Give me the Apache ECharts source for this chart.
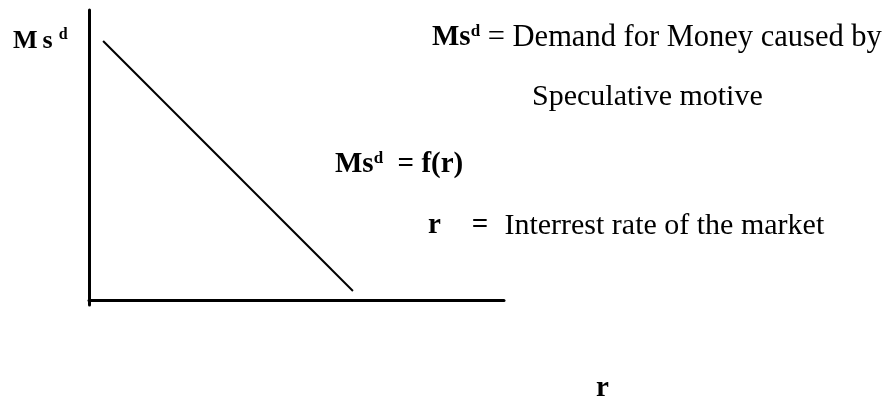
<!DOCTYPE html>
<html>
<head>
<meta charset="utf-8">
<title>Demand for money – speculative motive</title>
<script src="https://cdn.jsdelivr.net/npm/echarts@6/dist/echarts.min.js"></script>
<style>
  html, body { margin: 0; padding: 0; background: #fff; }
  #chart { width: 891px; height: 400px; }
</style>
</head>
<body>
<div id="chart"></div>
<script>
// interest rate r (x) and speculative demand Ms^d (y), arbitrary units
const rValues = [3.4, 63.6];
const msdValues = [89.3, 3.1];
const rRange = [0, 100];
const msdRange = [-1.7, 100];

const ink = '#000';
const serif = '"Liberation Serif", "Times New Roman", serif';

// rich text styles shared by the annotations
const rich = {
  b: { fontSize: 29, fontWeight: 'bold', fontFamily: serif, fill: ink, lineHeight: 30 },
  n: { fontSize: 30, fontFamily: serif, fill: ink, lineHeight: 30 },
  sup: { fontSize: 17, fontWeight: 'bold', fontFamily: serif, fill: ink, lineHeight: 17, verticalAlign: 'top' }
};

function label(x, y, text, extraRich) {
  return {
    type: 'text',
    x: x,
    y: y,
    style: {
      text: text,
      rich: Object.assign({}, rich, extraRich || {}),
      verticalAlign: 'middle',
      align: 'left'
    }
  };
}

const chart = echarts.init(document.getElementById('chart'), null, { renderer: 'canvas' });

const option = {
  backgroundColor: '#fff',
  animation: false,
  grid: { left: 89, right: 387, top: 10, bottom: 95 },
  xAxis: {
    type: 'value',
    min: rRange[0],
    max: rRange[1],
    axisLine: { onZero: true, lineStyle: { color: ink, width: 3 } },
    axisTick: { show: false },
    axisLabel: { show: false },
    splitLine: { show: false }
  },
  yAxis: {
    type: 'value',
    min: msdRange[0],
    max: msdRange[1],
    axisLine: { show: true, onZero: false, lineStyle: { color: ink, width: 3 } },
    axisTick: { show: false },
    axisLabel: { show: false },
    splitLine: { show: false }
  },
  series: [
    {
      name: 'Ms^d = f(r)',
      type: 'line',
      showSymbol: false,
      lineStyle: { color: ink, width: 2 },
      data: rValues.map((r, i) => [r, msdValues[i]])
    }
  ],
  graphic: [
    // axis titles
    label(13, 41, '{m|M}{s|s}{d|d}', {
      m: { fontSize: 26, fontWeight: 'bold', fontFamily: serif, fill: ink, lineHeight: 28 },
      s: { fontSize: 26, fontWeight: 'bold', fontFamily: serif, fill: ink, lineHeight: 28, padding: [0, 0, 0, 5] },
      d: { fontSize: 16, fontWeight: 'bold', fontFamily: serif, fill: ink, lineHeight: 16, verticalAlign: 'top', padding: [0, 0, 0, 6] }
    }),
    label(596, 389, '{b|r}'),
    // meaning of the symbols
    label(432, 38, '{b|Ms}{sup|d}{n| = Demand for Money caused by}', {
      n: { fontSize: 30.5, fontFamily: serif, fill: ink, lineHeight: 30 }
    }),
    label(532, 97, '{n|Speculative motive}'),
    label(335, 165, '{b|Ms}{sup|d}{b|  = f(r)}'),
    label(428, 226, '{b|r}{bq|=}{n|Interrest rate of the market}', {
      bq: { fontSize: 29, fontWeight: 'bold', fontFamily: serif, fill: ink, lineHeight: 30, padding: [0, 16, 0, 31] }
    })
  ]
};

chart.setOption(option);
window.addEventListener('resize', () => chart.resize());
</script>
</body>
</html>
